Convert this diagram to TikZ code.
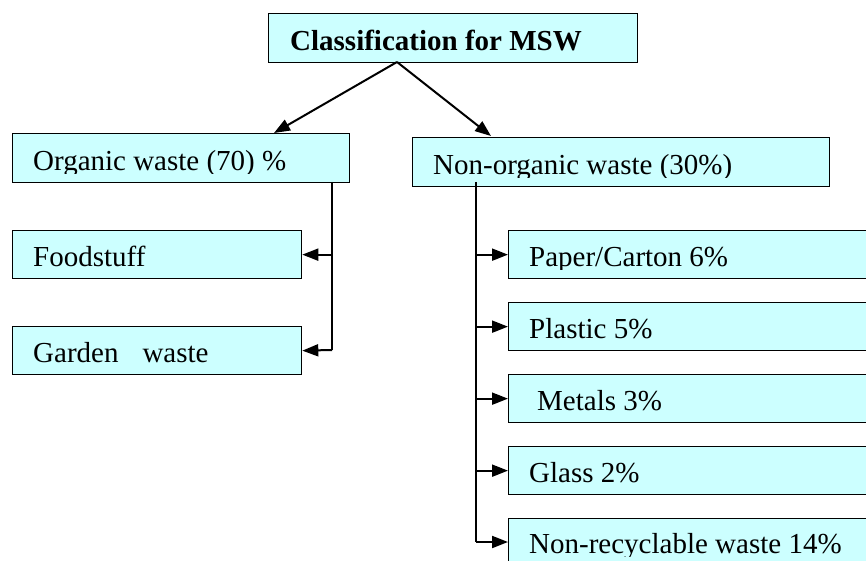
\documentclass[tikz,border=0pt]{standalone}
\usepackage{fontspec}
\setmainfont{Liberation Serif}
\usetikzlibrary{arrows.meta}
\definecolor{boxcyan}{HTML}{CCFFFF}
% a label set on the box's baseline, its descenders cut off at the box's lower edge
\newcommand\boxlabel[3][21]{%
  \begin{scope}
    \clip (#2.north west) rectangle ([yshift=10pt]#2.south east);
    \node[lbl] (#2-t) at ([xshift=#1pt,yshift=12.5pt]#2.south west) {#3};
  \end{scope}}
\begin{document}
\begin{tikzpicture}[x=1pt,y=-1pt,
  box/.style={draw=black, line width=1.3pt, fill=boxcyan, anchor=north west,
    inner sep=0pt, minimum height=48pt},
  lbl/.style={anchor=base west, inner sep=0pt, font=\fontsize{29}{34}\selectfont},
  link/.style={line width=2pt, -{Triangle[length=16pt,width=12pt]}},
  trunk/.style={line width=2pt}]
\clip (0,0) rectangle (866,561);
\fill[white] (0,0) rectangle (866,561);

% boxes
\node[box, minimum width=369pt, minimum height=49pt] (msw) at (268,13) {};
\node[box, minimum width=337pt, minimum height=49pt] (org) at (12,133) {};
\node[box, minimum width=289pt] (food) at (12,230) {};
\node[box, minimum width=289pt] (garden) at (12,326) {};
\node[box, minimum width=417pt, minimum height=49pt] (inorg) at (412,137) {};
\node[box, minimum width=400pt] (paper) at (508,230) {};
\node[box, minimum width=400pt] (plastic) at (508,302) {};
\node[box, minimum width=400pt] (metal) at (508,374) {};
\node[box, minimum width=400pt] (glass) at (508,446) {};
\node[box, minimum width=400pt, minimum height=80pt] (rest) at (508,518) {};

% labels
\boxlabel[22]{msw}{\textbf{Classification for MSW}}
\boxlabel{org}{Organic waste (70) \%}
\boxlabel{food}{Foodstuff}
\boxlabel{garden}{Garden\hspace{24pt}waste}
\boxlabel{inorg}{Non-organic waste (30\%)}
\boxlabel{paper}{Paper/Carton 6\%}
\boxlabel{plastic}{Plastic 5\%}
\boxlabel[29]{metal}{Metals 3\%}
\boxlabel{glass}{Glass 2\%}
\begin{scope}
  \clip (rest.north west) rectangle (866,556);
  \node[lbl] (rest-t) at ([xshift=21pt]rest.north west |- 0,553) {Non-recyclable waste 14\%};
\end{scope}

% top level branches
\coordinate (split) at (397,62);
\draw[link] (split) -- (274,133);
\draw[link] (split) -- (491,136);

% organic sub-classes
\coordinate (otop) at (332,182);
\coordinate (obot) at (332,350);
\draw[trunk] (otop) -- (obot);
\draw[link] (otop |- food.east) -- (food.east);
\draw[link] (obot) -- (garden.east);

% non-organic sub-classes
\coordinate (ntop) at (476,182);
\coordinate (nbot) at (476,542);
\draw[trunk] (ntop) -- (nbot);
\draw[link] (ntop |- paper.west) -- (paper.west);
\draw[link] (ntop |- plastic.west) -- (plastic.west);
\draw[link] (ntop |- metal.west) -- (metal.west);
\draw[link] (ntop |- glass.west) -- (glass.west);
\draw[link] (nbot) -- (nbot -| rest.west);
\end{tikzpicture}
\end{document}
